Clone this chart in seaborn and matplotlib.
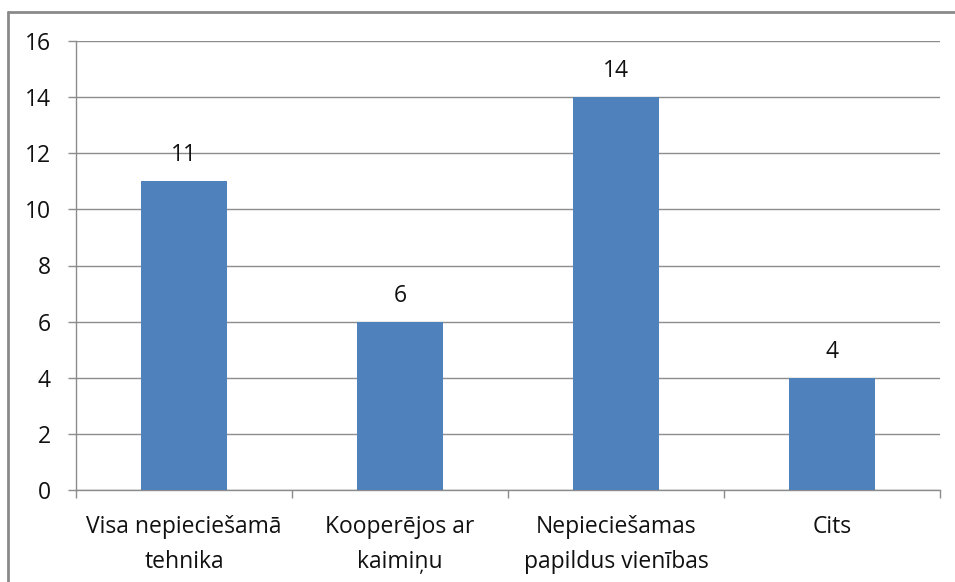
import matplotlib
matplotlib.use("Agg")
import matplotlib.pyplot as plt
import seaborn as sns
import pandas as pd
from matplotlib.lines import Line2D

categories = ["Visa nepieciešamā\ntehnika", "Kooperējos ar\nkaimiņu", "Nepieciešamas\npapildus vienības", "Cits"]
values = [11, 6, 14, 4]
yticks = [0, 2, 4, 6, 8, 10, 12, 14, 16]

sns.set_theme(style="white")
plt.rcParams['font.family'] = ['Open Sans', 'DejaVu Sans']

df = pd.DataFrame({"cat": categories, "val": values})

fig = plt.figure(figsize=(9.55, 5.82), dpi=100)
ax = fig.add_axes([76/955, 1-490/582, (940-76)/955, (490-41)/582])

sns.barplot(data=df, x="cat", y="val", color="#4F81BD", width=0.4, saturation=1, ax=ax,
            zorder=3, linewidth=0)

gc = "#8c8c8c"
fs = 16.5
ax.set_ylim(0, 16)
ax.set_xlim(-0.5, len(categories)-0.5)
ax.set_yticks(yticks)
ax.set_yticklabels([str(t) for t in yticks], fontsize=fs, color="#111111")
ax.yaxis.grid(True, color=gc, linewidth=1)
ax.set_axisbelow(True)
ax.set_xlabel("")
ax.set_ylabel("")
for s in ["top", "right"]:
    ax.spines[s].set_visible(False)
for s in ["left", "bottom"]:
    ax.spines[s].set_color(gc)
    ax.spines[s].set_linewidth(1)

ax.set_xticks(range(len(categories)))
ax.set_xticklabels(categories, fontsize=fs, color="#111111", linespacing=1.6)
ax.tick_params(axis="x", length=0, pad=18)
ax.set_xticks([i - 0.5 for i in range(len(categories)+1)], minor=True)
ax.tick_params(axis="x", which="minor", length=6, color=gc, width=1, direction="out", bottom=True)
ax.tick_params(axis="y", length=6, color=gc, width=1, direction="out", left=True, pad=12)

for i, v in enumerate(values):
    ax.annotate(str(v), (i, v), xytext=(0, 26), textcoords="offset pixels",
                ha="center", va="center", fontsize=fs, color="#111111")

bx, by = 8/955, 1 - 12/582
fig.add_artist(Line2D([bx, 1.05], [by, by], transform=fig.transFigure, color="#8a8a8a", linewidth=2))
fig.add_artist(Line2D([bx, bx], [-0.05, by], transform=fig.transFigure, color="#8a8a8a", linewidth=2))

fig.savefig("out.png", dpi=100)
